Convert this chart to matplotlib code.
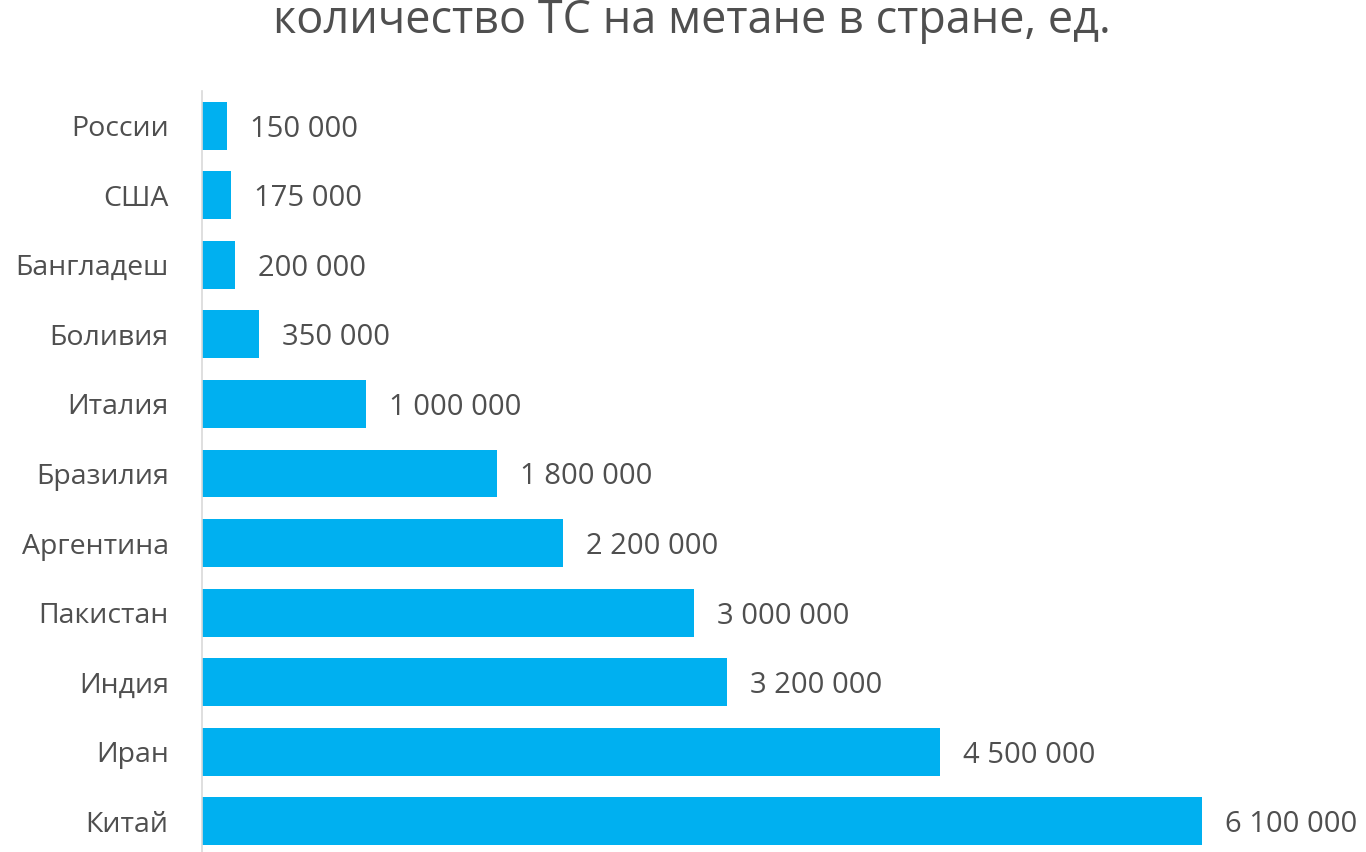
import matplotlib
matplotlib.use("Agg")
import matplotlib.pyplot as plt

countries = ["России", "США", "Бангладеш", "Боливия", "Италия", "Бразилия",
             "Аргентина", "Пакистан", "Индия", "Иран", "Китай"]
values = [150000, 175000, 200000, 350000, 1000000, 1800000,
          2200000, 3000000, 3200000, 4500000, 6100000]
value_labels = ["150 000", "175 000", "200 000", "350 000", "1 000 000", "1 800 000",
                "2 200 000", "3 000 000", "3 200 000", "4 500 000", "6 100 000"]
title = "количество ТС на метане в стране, ед."

plt.rcParams['font.family'] = ['Open Sans', 'DejaVu Sans']
TEXT = "#4F4F4F"
BAR = "#00B0F0"

W, H = 1366, 852
fig = plt.figure(figsize=(W / 100, H / 100), dpi=100)
fig.patch.set_facecolor("white")

left_px, right_px = 202, 1366
top_px, bottom_px = 91, 856
ax = fig.add_axes([left_px / W, 1 - bottom_px / H,
                   (right_px - left_px) / W, (bottom_px - top_px) / H])

ypos = list(range(len(countries)))
ax.barh(ypos, values, height=0.69, color=BAR, zorder=2)
ax.set_ylim(len(countries) - 0.5, -0.5)
ppm = 1000 / 6.1e6
ax.set_xlim(0, (right_px - left_px) / ppm)

ax.set_yticks(ypos)
ax.set_yticklabels(countries, fontsize=20.5, color=TEXT)
ax.tick_params(axis='y', length=0, pad=24)
ax.set_xticks([])

for s in ["top", "right", "bottom"]:
    ax.spines[s].set_visible(False)
ax.spines["left"].set_color("#D9D9D9")
ax.spines["left"].set_linewidth(1.2)

for y, v, lab in zip(ypos, values, value_labels):
    ax.annotate(lab, xy=(v, y), xytext=(16.5, -2.5), textcoords="offset points",
                ha="left", va="center", fontsize=21, color=TEXT,
                annotation_clip=False)

fig.text(692 / W, 1 - 21 / H, title, ha="center", va="center",
         fontsize=32.4, color=TEXT)

fig.savefig("out.png", dpi=100, facecolor="white")
